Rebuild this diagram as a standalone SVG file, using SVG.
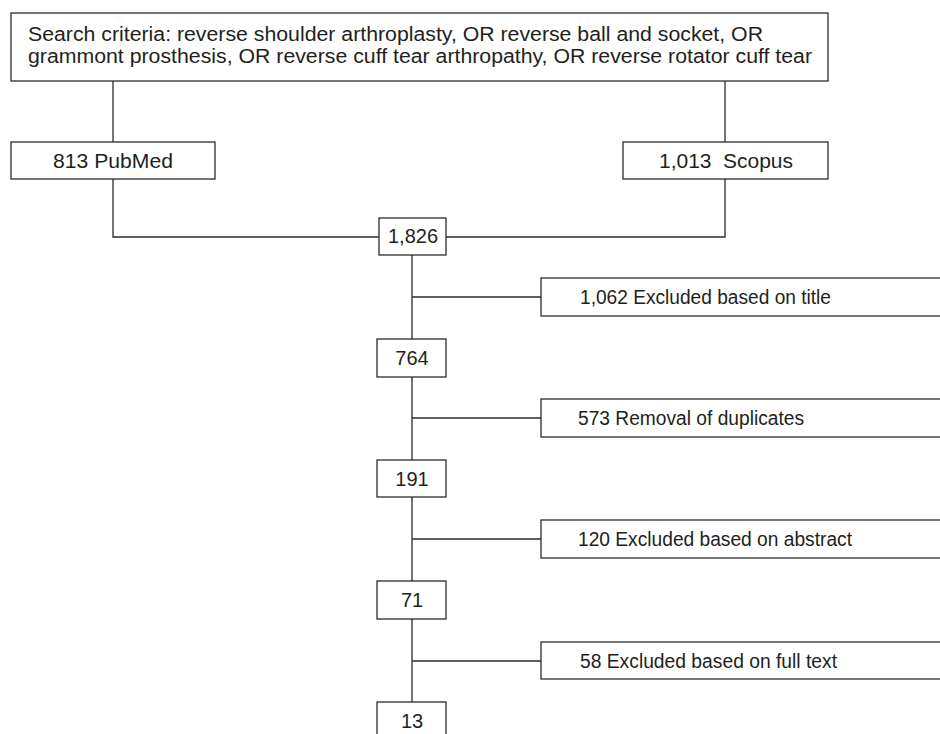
<svg xmlns="http://www.w3.org/2000/svg" width="940" height="734" viewBox="0 0 940 734">
<style>
.b{fill:#fff;stroke:#2b2b2b;stroke-width:1.3}
.c{fill:none;stroke:#2b2b2b;stroke-width:1.3}
text{font-family:"Liberation Sans",Arial,sans-serif;font-size:20px;fill:#231f20}
.m{text-anchor:middle}
</style>
<rect width="940" height="734" fill="#fff"/>
<g id="connectors">
<path class="c" d="M113 81V142M725 81V142M113 179V237H380M725 179V237H446M412 255V339M412 297H541M412 377V460M412 418H541M412 497V581M412 539H541M412 619V702M412 661H541"/>
</g>
<g id="search"><rect class="b" x="11" y="13" width="817" height="68"/>
<text x="28" y="40.5" textLength="735" lengthAdjust="spacingAndGlyphs">Search criteria: reverse shoulder arthroplasty, OR reverse ball and socket, OR</text>
<text x="28" y="63" textLength="784" lengthAdjust="spacingAndGlyphs">grammont prosthesis, OR reverse cuff tear arthropathy, OR reverse rotator cuff tear</text></g>
<g id="pubmed"><rect class="b" x="11" y="142" width="204" height="37"/><text x="53" y="168" textLength="120" lengthAdjust="spacingAndGlyphs">813 PubMed</text></g>
<g id="scopus"><rect class="b" x="623" y="142" width="205" height="37"/><text x="659" y="168" textLength="134" lengthAdjust="spacingAndGlyphs" xml:space="preserve">1,013  Scopus</text></g>
<g id="n1826"><rect class="b" x="379" y="218" width="67" height="37"/><text class="m" x="413" y="243">1,826</text></g>
<g id="title"><rect class="b" x="541" y="278" width="410" height="38"/><text x="580" y="304" textLength="251" lengthAdjust="spacingAndGlyphs">1,062 Excluded based on title</text></g>
<g id="n764"><rect class="b" x="377" y="339" width="69" height="38"/><text class="m" x="412" y="365">764</text></g>
<g id="dup"><rect class="b" x="541" y="399" width="410" height="38"/><text x="578" y="425" textLength="226" lengthAdjust="spacingAndGlyphs">573 Removal of duplicates</text></g>
<g id="n191"><rect class="b" x="377" y="460" width="69" height="37"/><text class="m" x="412" y="486">191</text></g>
<g id="abstract"><rect class="b" x="541" y="520" width="410" height="38"/><text x="578" y="546" textLength="274" lengthAdjust="spacingAndGlyphs">120 Excluded based on abstract</text></g>
<g id="n71"><rect class="b" x="377" y="581" width="69" height="38"/><text class="m" x="412" y="607">71</text></g>
<g id="fulltext"><rect class="b" x="541" y="642" width="410" height="37"/><text x="580" y="668" textLength="257" lengthAdjust="spacingAndGlyphs">58 Excluded based on full text</text></g>
<g id="n13"><rect class="b" x="377" y="702" width="69" height="40"/><text class="m" x="412" y="728">13</text></g>
</svg>
